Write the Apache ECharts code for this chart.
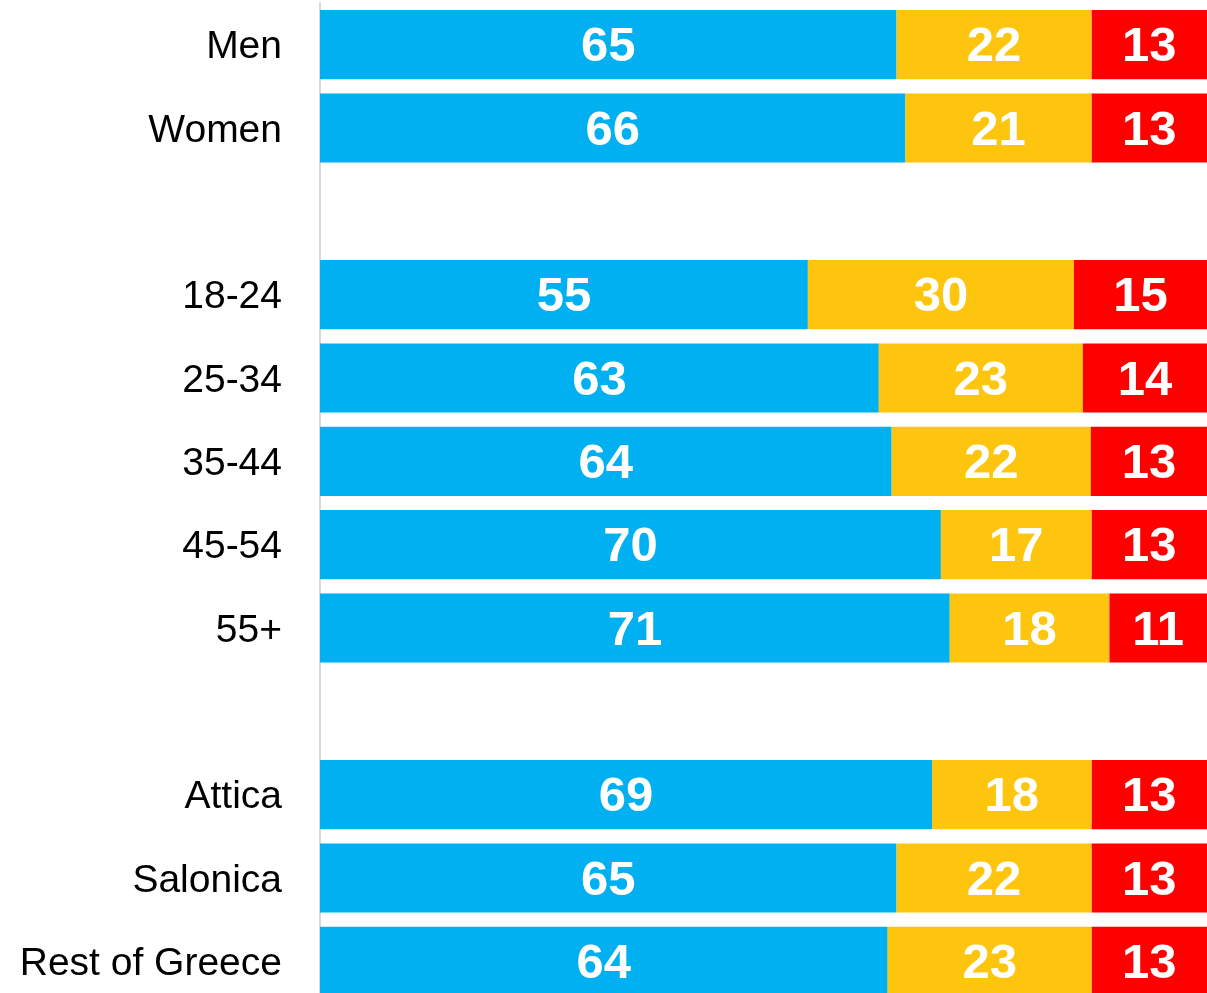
<!DOCTYPE html>
<html>
<head>
<meta charset="utf-8">
<style>
  html, body { margin: 0; padding: 0; background: #fff; }
  #chart { width: 1207px; height: 993px; }
</style>
<script src="https://cdn.jsdelivr.net/npm/echarts@6/dist/echarts.min.js"></script>
</head>
<body>
<div id="chart"></div>
<script>
// categories, top to bottom ('' = spacer rows between groups)
var categories = ['Men', 'Women', '', '18-24', '25-34', '35-44', '45-54', '55+', '', 'Attica', 'Salonica', 'Rest of Greece'];

// shares in %, null on spacer rows
var blueValues   = [65, 66, null, 55, 63, 64.45, 70, 71, null, 69, 65, 64];
var yellowValues = [22, 21, null, 30, 23, 22.45, 17, 18, null, 18, 22, 23];
var redValues    = [13, 13, null, 15, 14, 13.1, 13, 11, null, 13, 13, 13];

var colors = ['#00b0f0', '#fec50f', '#ff0000'];

var chart = echarts.init(document.getElementById('chart'));

function makeSeries(name, values, color) {
    return {
        name: name,
        type: 'bar',
        stack: 'total',
        data: values,
        barCategoryGap: '17%',
        itemStyle: { color: color },
        label: {
            show: true,
            position: 'inside',
            offset: [0, 3],
            color: '#fff',
            fontFamily: 'Liberation Sans, Arial, sans-serif',
            fontWeight: 'bold',
            fontSize: 49,
            formatter: function (p) {
                return p.value == null ? '' : Math.round(p.value);
            }
        }
    };
}

var option = {
    animation: false,
    grid: {
        left: 320,
        right: 0,
        top: 3,
        height: 1000,
        outerBoundsMode: 'none'
    },
    xAxis: {
        type: 'value',
        min: 0,
        max: 100,
        show: false
    },
    yAxis: {
        type: 'category',
        inverse: true,
        data: categories,
        axisLine: { show: true, lineStyle: { color: '#d9d9d9', width: 2 } },
        axisTick: { show: false },
        axisLabel: {
            margin: 38,
            formatter: function (v) { return v ? '{a|' + v + '}' : ''; },
            rich: {
                a: {
                    padding: [6, 0, 0, 0],
                    color: '#000',
                    fontFamily: 'Liberation Sans, Arial, sans-serif',
                    fontSize: 39
                }
            }
        }
    },
    series: [
        makeSeries('blue', blueValues, colors[0]),
        makeSeries('yellow', yellowValues, colors[1]),
        makeSeries('red', redValues, colors[2])
    ]
};

chart.setOption(option);
</script>
</body>
</html>
